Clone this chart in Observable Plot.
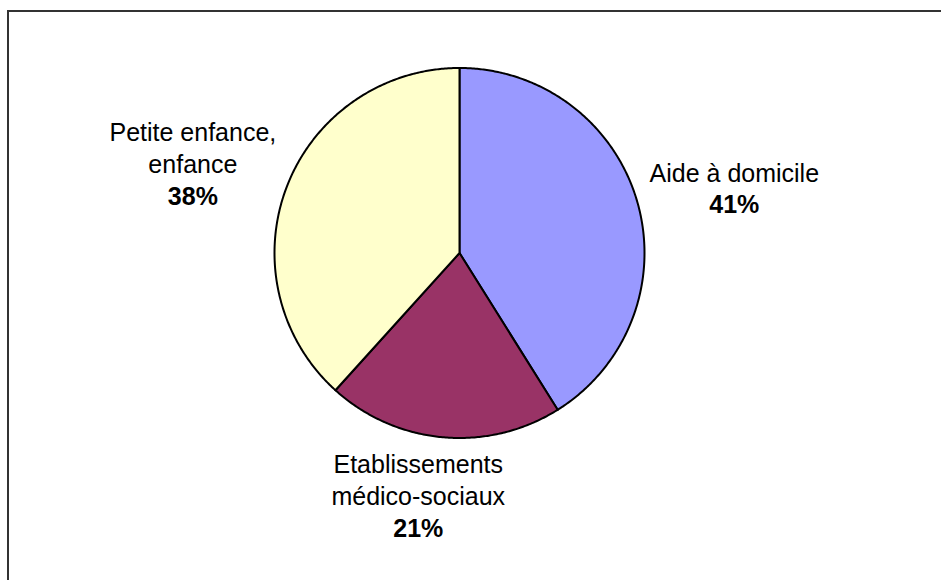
<!DOCTYPE html>
<html><head><meta charset="utf-8">
<script src="https://cdn.jsdelivr.net/npm/d3@7"></script>
<script src="https://cdn.jsdelivr.net/npm/@observablehq/plot@0.6"></script>
<style>
body{margin:0;background:#fff;}
#wrap{position:relative;width:941px;height:580px;overflow:hidden;background:#fff;}
#wrap svg{position:absolute;left:0;top:0;}
#border{position:absolute;left:7px;top:10px;width:1000px;height:1000px;border-left:2px solid #333;border-top:2px solid #333;box-sizing:border-box;}
</style></head><body><div id="wrap"></div>
<script>
// ---- data ----
const categories = ["Aide à domicile", "Etablissements médico-sociaux", "Petite enfance, enfance"];
const nameLines = [["Aide à domicile"], ["Etablissements", "médico-sociaux"], ["Petite enfance,", "enfance"]];
const values = [41.1, 20.6, 38.3];
const percentLabels = ["41%", "21%", "38%"];

// ---- style / layout ----
const sliceColors = ["#9999FF", "#993366", "#FFFFCC"];
const R = 185; // pixel radius
const cx = 459, cy = 252.5;
// label placement relative to the slice's mid-angle edge point (pixels)
const labelLayout = [
  {dx: 97, dy: [-20, 11.5]},
  {dx: -25, dy: [36, 68, 100]},
  {dx: -94, dy: [-46, -14, 18]}
];

const arcs = d3.pie().sort(null).value(d => d)(values);

const polys = [];
arcs.forEach((a, i) => {
  polys.push({k: i, x: 0, y: 0});
  const n = Math.max(2, Math.ceil((a.endAngle - a.startAngle) / (Math.PI / 360)));
  for (let j = 0; j <= n; j++) {
    const t = a.startAngle + (a.endAngle - a.startAngle) * j / n;
    polys.push({k: i, x: Math.sin(t), y: Math.cos(t)});
  }
  polys.push({k: i, x: 0, y: 0});
});

const labelRows = [];
arcs.forEach((a, i) => {
  const m = (a.startAngle + a.endAngle) / 2;
  const ex = Math.sin(m), ey = Math.cos(m);
  const L = labelLayout[i];
  const lines = [...nameLines[i], percentLabels[i]];
  lines.forEach((txt, j) => {
    labelRows.push({
      text: txt,
      bold: j === lines.length - 1,
      x: ex + L.dx / R,
      y: ey - L.dy[j] / R
    });
  });
});

const chart = Plot.plot({
  width: 941,
  height: 580,
  margin: 0,
  x: {domain: [-1, 1], range: [cx - R, cx + R], axis: null},
  y: {domain: [-1, 1], range: [cy + R, cy - R], axis: null},
  color: {type: "identity"},
  style: {background: "transparent", fontFamily: "'Liberation Sans', Arial, sans-serif"},
  marks: [
    Plot.line(polys, {x: "x", y: "y", z: "k", fill: d => sliceColors[d.k], stroke: "#000", strokeWidth: 2, strokeLinejoin: "round"}),
    Plot.text(labelRows.filter(d => !d.bold), {x: "x", y: "y", text: "text", lineAnchor: "bottom", textAnchor: "middle", fontSize: 25, fill: "#000"}),
    Plot.text(labelRows.filter(d => d.bold), {x: "x", y: "y", text: "text", lineAnchor: "bottom", textAnchor: "middle", fontSize: 25, fontWeight: "bold", fill: "#000"})
  ]
});
const wrap = document.getElementById("wrap");
wrap.appendChild(chart);
const border = document.createElement("div");
border.id = "border";
wrap.appendChild(border);
</script>
</body></html>
